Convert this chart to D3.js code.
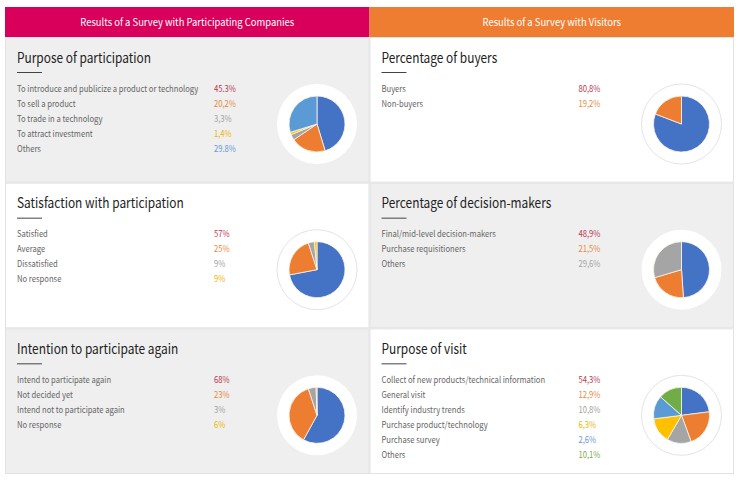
<!DOCTYPE html>
<html><head><meta charset="utf-8">
<script src="https://cdn.jsdelivr.net/npm/d3@7"></script>
<style>
html,body{margin:0;padding:0;background:#fff;}
svg{display:block;}
</style></head>
<body>
<svg id="chart" width="740" height="481"></svg>
<script>
// ---- data ----
const headers = ["Results of a Survey with Participating Companies", "Results of a Survey with Visitors"];
const headerColors = ["#d9005b", "#ee7d32"];

const titles = [
  "Purpose of participation", "Percentage of buyers",
  "Satisfaction with participation", "Percentage of decision-makers",
  "Intention to participate again", "Purpose of visit"
];

const labels1 = ["To introduce and publicize a product or technology", "To sell a product", "To trade in a technology", "To attract investment", "Others"];
const values1 = ["45.3%", "20,2%", "3,3%", "1,4%", "29.8%"];
const pie1 = [45.3, 20.2, 3.3, 1.4, 29.8];

const labels2 = ["Buyers", "Non-buyers"];
const values2 = ["80,8%", "19,2%"];
const pie2 = [80.8, 19.2];

const labels3 = ["Satisfied", "Average", "Dissatisfied", "No response"];
const values3 = ["57%", "25%", "9%", "9%"];
const pie3 = [72, 23, 3.5, 1.5];

const labels4 = ["Final/mid-level decision-makers", "Purchase requisitioners", "Others"];
const values4 = ["48,9%", "21,5%", "29,6%"];
const pie4 = [48.9, 21.5, 29.6];

const labels5 = ["Intend to participate again", "Not decided yet", "Intend not to participate again", "No response"];
const values5 = ["68%", "23%", "3%", "6%"];
const pie5 = [58, 37, 4.5, 0.5];

const labels6 = ["Collect of new products/technical information", "General visit", "Identify industry trends", "Purchase product/technology", "Purchase survey", "Others"];
const values6 = ["54,3%", "12,9%", "10,8%", "6,3%", "2,6%", "10,1%"];
const pie6 = [23, 21.4, 14, 14.6, 13.5, 13.5];

const sliceColors = ["#4472c4", "#ed7d31", "#a5a5a5", "#ffc000", "#5b9bd5", "#70ad47"];
const valueColors = ["#b73a50", "#e8893f", "#a3a3a3", "#f0b400", "#6a97d2", "#7aab4e"];

const panels = [
  {title: titles[0], labels: labels1, values: values1, pie: pie1, col: 0, row: 0},
  {title: titles[1], labels: labels2, values: values2, pie: pie2, col: 1, row: 0},
  {title: titles[2], labels: labels3, values: values3, pie: pie3, col: 0, row: 1},
  {title: titles[3], labels: labels4, values: values4, pie: pie4, col: 1, row: 1},
  {title: titles[4], labels: labels5, values: values5, pie: pie5, col: 0, row: 2},
  {title: titles[5], labels: labels6, values: values6, pie: pie6, col: 1, row: 2}
];

// ---- layout ----
const svg = d3.select("#chart");
const FONT = "'Noto Sans CJK KR', 'Noto Sans', sans-serif";
const SX = 0.85; // horizontal compression to mimic a narrow gothic face
const x = d3.scaleBand().domain([0, 1]).range([5, 734]);
const y = d3.scaleBand().domain([0, 1, 2]).range([37, 474]);

function label(sel, tx, ty, sx) {
  return sel.append("text")
    .attr("transform", `translate(${tx},${ty}) scale(${sx},1)`)
    .attr("font-family", FONT);
}

// headers
const hd = svg.selectAll("g.hd").data(headers).join("g").attr("class", "hd");
hd.append("rect")
  .attr("x", (d, i) => x(i)).attr("y", 7)
  .attr("width", x.bandwidth()).attr("height", 30)
  .attr("fill", (d, i) => headerColors[i]);
hd.each(function(d, i) {
  label(d3.select(this), x(i) + x.bandwidth() / 2, 25.5, 0.9)
    .attr("text-anchor", "middle").attr("fill", "#fff")
    .attr("font-size", 10.5).text(d);
});

const pieGen = d3.pie().sort(null).value(d => d);
const arc = d3.arc().innerRadius(0).outerRadius(28);

const g = svg.selectAll("g.panel").data(panels).join("g").attr("class", "panel")
  .attr("transform", d => `translate(${x(d.col)},${y(d.row)})`);

g.append("rect")
  .attr("x", 0.5).attr("y", 0.5)
  .attr("width", x.bandwidth() - 1).attr("height", y.bandwidth() - 1)
  .attr("fill", d => ((d.col + d.row) % 2 === 0) ? "#efefef" : "#fff")
  .attr("stroke", "#e2e2e2").attr("stroke-width", 1);

g.each(function(d) {
  const p = d3.select(this);
  label(p, 12, 25.5, SX).attr("fill", "#222").attr("font-size", 14).text(d.title);
  p.append("line")
    .attr("x1", 12).attr("x2", 37).attr("y1", 35.5).attr("y2", 35.5)
    .attr("stroke", "#444").attr("stroke-width", 1);
  d.labels.forEach((lab, i) => {
    label(p, 12, 54.5 + i * 15, SX).attr("fill", "#666").attr("font-size", 9).text(lab);
    label(p, 209, 54.5 + i * 15, SX).attr("fill", valueColors[i]).attr("font-size", 9).text(d.values[i]);
  });
  const pg = p.append("g").attr("transform", "translate(312,87)");
  pg.append("circle").attr("r", 40).attr("fill", "#fff")
    .attr("stroke", ((d.col + d.row) % 2 === 0) ? "none" : "#e4e4e4").attr("stroke-width", 1);
  pg.selectAll("path").data(pieGen(d.pie)).join("path")
    .attr("d", arc)
    .attr("fill", (s, i) => sliceColors[i])
    .attr("stroke", "#fbf5e8").attr("stroke-width", 0.8);
});
</script>
</body></html>
